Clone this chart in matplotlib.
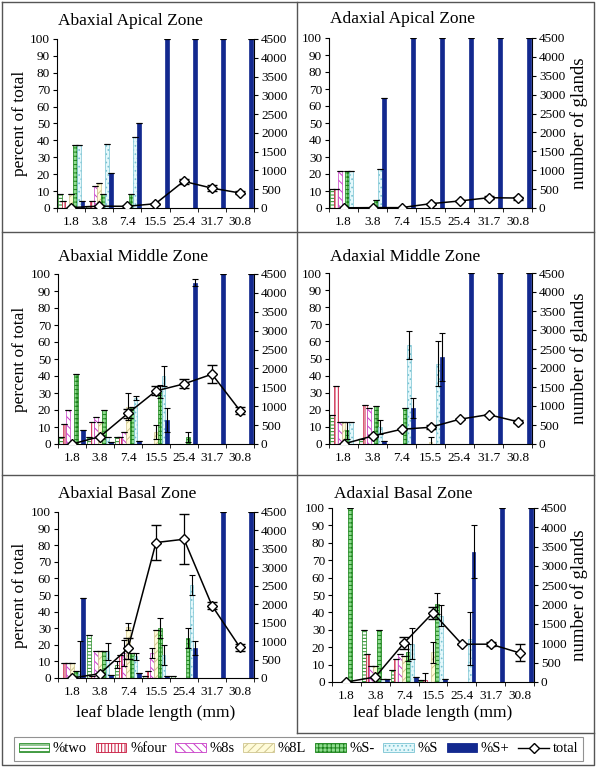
"""
Glandular trichome composition along the leaf blade.

Six panels (abaxial / adaxial x apical / middle / basal zone), each with
percentage bars per gland type and the total gland count on a twin axis.
"""

import matplotlib
matplotlib.use("Agg")
import matplotlib.pyplot as plt
import numpy as np
from matplotlib.lines import Line2D
from matplotlib.patches import Patch

plt.rcParams["font.family"] = ["Liberation Serif", "DejaVu Serif"]
plt.rcParams["hatch.linewidth"] = 0.7

CATEGORIES = ["1.8", "3.8", "7.4", "15.5", "25.4", "31.7", "30.8"]
SERIES = ["%two", "%four", "%8s", "%8L", "%S-", "%S", "%S+"]

# ---- Abaxial Apical Zone (rows = SERIES, columns = CATEGORIES) ----
AB_APICAL_PCT = [
    [8, 1, 0, 0, 0, 0, 0],
    [4, 4, 0, 0, 0, 0, 0],
    [0, 13, 0, 0, 0, 0, 0],
    [8, 15, 0, 0, 0, 0, 0],
    [37, 8, 8, 0, 0, 0, 0],
    [37, 38, 42, 0, 0, 0, 0],
    [4, 21, 50, 100, 100, 100, 100],
]
AB_APICAL_ERR = [[0] * 7 for _ in range(7)]
AB_APICAL_TOTAL = [10, 50, 45, 115, 710, 530, 400]
AB_APICAL_TOTAL_ERR = [0, 0, 0, 0, 60, 80, 40]

# ---- Adaxial Apical Zone ----
AD_APICAL_PCT = [
    [11, 0, 0, 0, 0, 0, 0],
    [11, 0, 0, 0, 0, 0, 0],
    [22, 0, 0, 0, 0, 0, 0],
    [0, 0, 0, 0, 0, 0, 0],
    [22, 5, 0, 0, 0, 0, 0],
    [22, 23, 0, 0, 0, 0, 0],
    [0, 65, 100, 100, 100, 100, 100],
]
AD_APICAL_ERR = [[0] * 7 for _ in range(7)]
AD_APICAL_TOTAL = [5, 10, 10, 114, 185, 272, 264]
AD_APICAL_TOTAL_ERR = [0, 0, 0, 0, 0, 40, 40]

# ---- Abaxial Middle Zone ----
AB_MIDDLE_PCT = [
    [4, 4, 4, 0, 0, 0, 0],
    [12, 13, 4, 0, 0, 0, 0],
    [20, 16, 7, 0, 0, 0, 0],
    [0, 13, 22, 7, 0, 0, 0],
    [41, 20, 22, 31, 4, 0, 0],
    [0, 4, 27, 40, 0, 0, 0],
    [8, 1, 2, 14, 95, 100, 100],
]
AB_MIDDLE_ERR = [
    [0, 0, 0, 0, 0, 0, 0],
    [0, 0, 0, 0, 0, 0, 0],
    [0, 0, 0, 0, 0, 0, 0],
    [0, 0, 8, 4, 0, 0, 0],
    [0, 0, 0, 4, 3, 0, 0],
    [0, 0, 1, 6, 0, 0, 0],
    [0, 0, 0, 7, 2, 0, 0],
]
AB_MIDDLE_TOTAL = [0, 195, 813, 1405, 1591, 1848, 884]
AB_MIDDLE_TOTAL_ERR = [0, 0, 120, 120, 120, 240, 100]

# ---- Adaxial Middle Zone ----
AD_MIDDLE_PCT = [
    [17, 3, 0, 0, 0, 0, 0],
    [34, 23, 0, 0, 0, 0, 0],
    [13, 21, 0, 0, 0, 0, 0],
    [13, 0, 0, 1, 0, 0, 0],
    [8, 22, 21, 0, 0, 0, 0],
    [13, 10, 58, 47, 0, 0, 0],
    [0, 2, 21, 51, 100, 100, 100],
]
AD_MIDDLE_ERR = [
    [0, 0, 0, 0, 0, 0, 0],
    [0, 0, 0, 0, 0, 0, 0],
    [0, 0, 0, 0, 0, 0, 0],
    [0, 0, 0, 3, 0, 0, 0],
    [5, 0, 0, 0, 0, 0, 0],
    [0, 4, 8, 13, 0, 0, 0],
    [0, 0, 6, 14, 0, 0, 0],
]
AD_MIDDLE_TOTAL = [0, 211, 387, 440, 650, 773, 589]
AD_MIDDLE_TOTAL_ERR = [0, 30, 0, 50, 0, 0, 30]

# ---- Abaxial Basal Zone ----
AB_BASAL_PCT = [
    [0, 26, 8, 1, 1, 0, 0],
    [9, 1, 14, 4, 0, 0, 0],
    [9, 16, 15, 15, 0, 0, 0],
    [9, 16, 31, 29, 0, 0, 0],
    [4, 16, 15, 30, 24, 0, 0],
    [4, 16, 13, 14, 56, 0, 0],
    [48, 2, 3, 1, 18, 100, 100],
]
AB_BASAL_ERR = [
    [0, 0, 2, 0, 0, 0, 0],
    [0, 0, 0, 0, 0, 0, 0],
    [0, 0, 8, 3, 0, 0, 0],
    [0, 0, 2, 0, 0, 0, 0],
    [0, 0, 0, 6, 6, 0, 0],
    [18, 5, 2, 6, 6, 0, 0],
    [0, 0, 0, 0, 4, 0, 0],
]
AB_BASAL_TOTAL = [0, 117, 801, 3672, 3762, 1962, 828]
AB_BASAL_TOTAL_ERR = [0, 0, 280, 480, 680, 100, 100]

# ---- Adaxial Basal Zone ----
AD_BASAL_PCT = [
    [0, 30, 7, 1, 0, 0, 0],
    [0, 16, 13, 1, 0, 0, 0],
    [0, 9, 16, 0, 0, 0, 0],
    [0, 9, 15, 17, 0, 0, 0],
    [100, 30, 17, 45, 0, 0, 0],
    [0, 2, 22, 38, 25, 0, 0],
    [0, 2, 3, 2, 75, 100, 100],
]
AD_BASAL_ERR = [
    [0, 0, 0, 0, 0, 0, 0],
    [0, 0, 0, 4, 0, 0, 0],
    [0, 0, 0, 0, 0, 0, 0],
    [0, 0, 0, 6, 0, 0, 0],
    [0, 0, 5, 6, 0, 0, 0],
    [0, 0, 9, 6, 15, 0, 0],
    [0, 0, 0, 0, 15, 0, 0],
]
AD_BASAL_TOTAL = [0, 130, 1012, 1791, 978, 978, 753]
AD_BASAL_TOTAL_ERR = [0, 0, 150, 150, 0, 50, 220]

STYLES = [
    dict(facecolor="white", edgecolor="#238b23", hatch="-----"),
    dict(facecolor="white", edgecolor="#c8163c", hatch="|||||"),
    dict(facecolor="white", edgecolor="#c83cc8", hatch="\\\\\\\\"),
    dict(facecolor="#fffbd8", edgecolor="#cfc58e", hatch="////"),
    dict(facecolor="#8fdc8f", edgecolor="#1a821a", hatch="++++"),
    dict(facecolor="#e4f8fb", edgecolor="#79c3d3", hatch="...."),
    dict(facecolor="#13298f", edgecolor="#13298f", hatch=None),
]

W, H = 597, 768


def fx(px):
    return px / W


def fy(py):
    return 1 - py / H


def draw_panel(fig, box, title, title_xy, pct, err, total, total_err,
               left_label=False, right_label=False, bottom_label=False):
    x0, y0, x1, y1 = box
    ax = fig.add_axes([fx(x0), fy(y1), fx(x1) - fx(x0), (y1 - y0) / H])
    x = np.arange(len(CATEGORIES))
    bw = 0.135
    for i, (vals, errs, st) in enumerate(zip(pct, err, STYLES)):
        pos = x + (i - 3) * bw
        ax.bar(pos, vals, width=bw, linewidth=0.5, **st)
        vals = np.array(vals, dtype=float)
        errs = np.array(errs, dtype=float)
        m = vals > 0
        ax.errorbar(pos[m], vals[m], yerr=errs[m], fmt="none", ecolor="black",
                    elinewidth=0.8, capsize=2.2, capthick=0.8)
    ax.set_xlim(-0.5, len(CATEGORIES) - 0.5)
    ax.set_ylim(0, 100)
    ax.set_yticks(range(0, 101, 10))
    ax.set_xticks(x)
    ax.set_xticklabels(CATEGORIES)
    ax.set_xticks(np.arange(-0.5, len(CATEGORIES), 1), minor=True)
    ax.tick_params(axis="x", which="major", length=0, labelsize=9.5, pad=6)
    ax.tick_params(axis="x", which="minor", length=3, direction="out")
    ax.tick_params(axis="y", length=3, direction="out", labelsize=9.5, pad=2)
    for s in ("top", "right"):
        ax.spines[s].set_visible(False)
    for s in ("left", "bottom"):
        ax.spines[s].set_linewidth(0.8)

    ax2 = ax.twinx()
    ax2.errorbar(x, total, yerr=total_err, color="black", linewidth=1.1,
                 marker="D", markersize=5.5, markerfacecolor="white",
                 markeredgecolor="black", markeredgewidth=1.0,
                 ecolor="black", elinewidth=0.9, capsize=3.5, capthick=0.9)
    ax2.set_ylim(0, 4500)
    ax2.set_yticks(range(0, 4501, 500))
    ax2.tick_params(axis="y", length=3, direction="out", labelsize=9.5, pad=2)
    ax2.spines["top"].set_visible(False)
    ax2.spines["left"].set_visible(False)
    ax2.spines["bottom"].set_visible(False)
    ax2.spines["right"].set_linewidth(0.8)

    fig.text(fx(title_xy[0]), fy(title_xy[1]), title, fontsize=12.5,
             ha="left", va="center")
    if left_label:
        fig.text(fx(20), fy((y0 + y1) / 2), "percent of total", fontsize=12.5,
                 rotation=90, ha="center", va="center")
    if right_label:
        fig.text(fx(579), fy((y0 + y1) / 2), "number of glands", fontsize=13.5,
                 rotation=90, ha="center", va="center")
    if bottom_label:
        fig.text(fx((x0 + x1) / 2), fy(713), "leaf blade length (mm)",
                 fontsize=12.5, ha="center", va="center")
    return ax


fig = plt.figure(figsize=(W / 100, H / 100), dpi=100)

draw_panel(fig, (57, 39, 254, 208), "Abaxial Apical Zone", (58, 21),
           AB_APICAL_PCT, AB_APICAL_ERR, AB_APICAL_TOTAL, AB_APICAL_TOTAL_ERR,
           left_label=True)
draw_panel(fig, (329, 38, 532, 208), "Adaxial Apical Zone", (330, 19),
           AD_APICAL_PCT, AD_APICAL_ERR, AD_APICAL_TOTAL, AD_APICAL_TOTAL_ERR,
           right_label=True)
draw_panel(fig, (58, 274, 254, 444), "Abaxial Middle Zone", (58, 257),
           AB_MIDDLE_PCT, AB_MIDDLE_ERR, AB_MIDDLE_TOTAL, AB_MIDDLE_TOTAL_ERR,
           left_label=True)
draw_panel(fig, (329, 273, 532, 444), "Adaxial Middle Zone", (330, 257),
           AD_MIDDLE_PCT, AD_MIDDLE_ERR, AD_MIDDLE_TOTAL, AD_MIDDLE_TOTAL_ERR,
           right_label=True)
draw_panel(fig, (58, 512, 254, 678), "Abaxial Basal Zone", (58, 494),
           AB_BASAL_PCT, AB_BASAL_ERR, AB_BASAL_TOTAL, AB_BASAL_TOTAL_ERR,
           left_label=True, bottom_label=True)
draw_panel(fig, (332, 508, 534, 682), "Adaxial Basal Zone", (334, 494),
           AD_BASAL_PCT, AD_BASAL_ERR, AD_BASAL_TOTAL, AD_BASAL_TOTAL_ERR,
           right_label=True, bottom_label=True)

# panel frames
frame = dict(color="#555555", linewidth=1.0, transform=fig.transFigure)
fig.add_artist(Line2D([fx(2), fx(594), fx(594), fx(2), fx(2)],
                      [fy(2), fy(2), fy(765), fy(765), fy(2)], **frame))
fig.add_artist(Line2D([fx(297), fx(297)], [fy(2), fy(733)], **frame))
for yy in (232, 475):
    fig.add_artist(Line2D([fx(2), fx(594)], [fy(yy), fy(yy)], **frame))
fig.add_artist(Line2D([fx(297), fx(594)], [fy(733), fy(733)], **frame))

handles = [Patch(label=name, linewidth=0.6, **st) for name, st in zip(SERIES, STYLES)]
handles.append(Line2D([], [], color="black", linewidth=1.0, marker="D",
                      markersize=5, markerfacecolor="white",
                      markeredgecolor="black", label="total"))
leg = fig.legend(handles=handles, loc="center", bbox_to_anchor=(0.5, fy(749)),
                 ncol=8, fontsize=10.5, frameon=True, fancybox=False,
                 handlelength=2.1, handleheight=0.55, handletextpad=0.25,
                 columnspacing=0.6, borderpad=0.35)
leg.get_frame().set_edgecolor("#777777")
leg.get_frame().set_linewidth(0.8)

fig.savefig("out.png", dpi=100)
